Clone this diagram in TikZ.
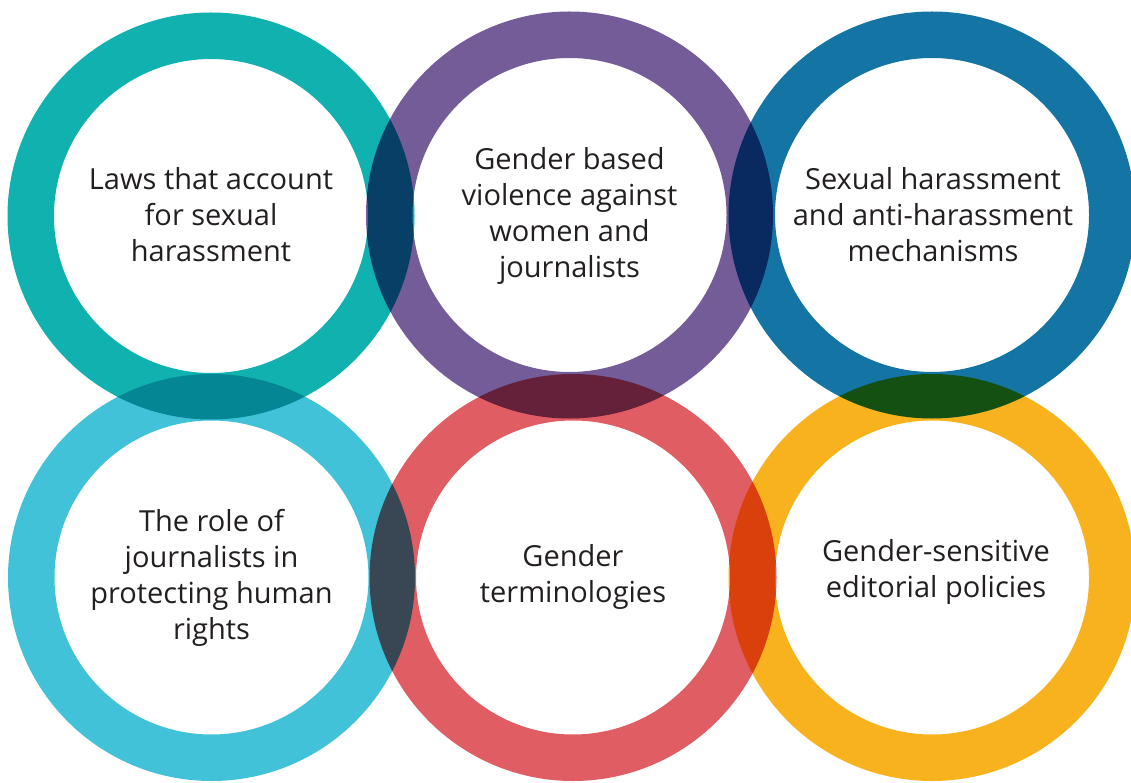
\documentclass[tikz,border=0pt]{standalone}
\usepackage{fontspec}
\setmainfont{Open Sans}
\definecolor{cTeal}{HTML}{10B1AF}
\definecolor{cPurple}{HTML}{735C97}
\definecolor{cBlue}{HTML}{1474A4}
\definecolor{cCyan}{HTML}{41C2D9}
\definecolor{cRed}{HTML}{E05D63}
\definecolor{cYellow}{HTML}{F8B21D}
\definecolor{cText}{HTML}{231F20}
\begin{document}
\begin{tikzpicture}[x=1pt,y=-1pt,
  ring/.style={circle, draw=#1, line width=46.5pt, minimum size=360.5pt, inner sep=0pt},
  lbl/.style={align=center, inner sep=0pt, font=\fontsize{29}{36}\selectfont, text=cText}]
\useasboundingbox (0,0) rectangle (1131,783);
\begin{scope}[blend mode=multiply]
\node[ring=cTeal]   (laws)   at (211,216)     {};
\node[ring=cPurple] (gbv)    at (569.5,215)   {};
\node[ring=cBlue]   (sexh)   at (932,215)     {};
\node[ring=cCyan]   (role)   at (211.5,577.5) {};
\node[ring=cRed]    (term)   at (573,577.5)   {};
\node[ring=cYellow] (policy) at (932,577.5)   {};
\end{scope}
\node[lbl] (lawsT)   at ([yshift=1pt]laws.center)    {Laws that account\\for sexual\\harassment};
\node[lbl] (gbvT)    at ([yshift=-1pt]gbv.center)    {Gender based\\violence against\\women and\\journalists};
\node[lbl] (sexhT)   at ([xshift=1pt]sexh.center)    {Sexual harassment\\and anti-harassment\\mechanisms};
\node[lbl] (roleT)   at (role.center)                {The role of\\journalists in\\protecting human\\rights};
\node[lbl] (termT)   at ([yshift=1pt]term.center)    {Gender\\terminologies};
\node[lbl] (policyT) at ([xshift=4pt,yshift=6pt]policy.center) {Gender-sensitive\\editorial policies};
\end{tikzpicture}
\end{document}
